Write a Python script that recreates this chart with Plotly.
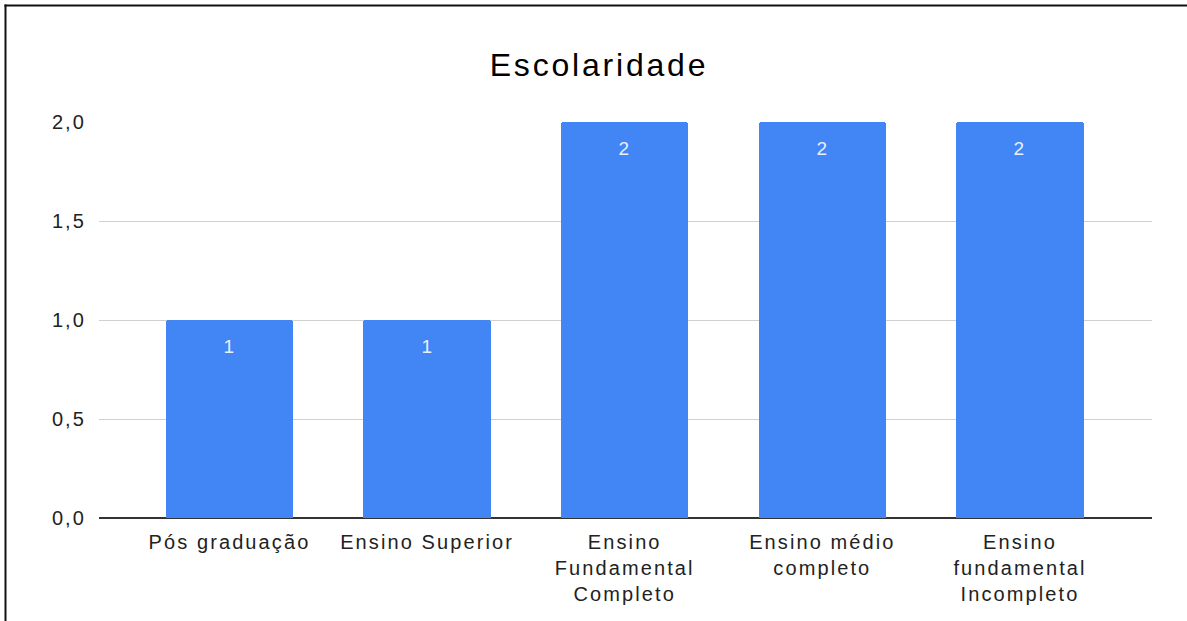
import plotly.graph_objects as go

categories = ["Pós graduação", "Ensino Superior", "Ensino<br>Fundamental<br>Completo",
              "Ensino médio<br>completo", "Ensino<br>fundamental<br>Incompleto"]
values = [1, 1, 2, 2, 2]
y_ticks = [0, 0.5, 1.0, 1.5, 2.0]
y_tick_labels = ["0,0", "0,5", "1,0", "1,5", "2,0"]
title_text = "Escolaridade"

W, H = 1187, 621
L, R, T, B = 99, 1152, 122, 518

FONT = "Liberation Sans, Arial, sans-serif"

fig = go.Figure()
fig.add_trace(go.Bar(
    x=list(range(len(categories))), y=values,
    marker=dict(color="#4285F4", line=dict(width=0), cornerradius=3),
    width=0.645, hoverinfo="skip",
))

for i, v in enumerate(values):
    fig.add_annotation(x=i, y=v, text=str(v), showarrow=False, xref="x", yref="y",
                       yshift=-26, font=dict(family=FONT, size=19, color="#e8f0fe"))

pw, ph = R - L, B - T
def px(xp):
    return (xp - L) / pw
def py(yp):
    return (B - yp) / ph

fig.add_shape(type="line", xref="paper", yref="paper", x0=px(4.5), x1=px(W + 5), y0=py(5.5), y1=py(5.5),
              line=dict(color="#111", width=2))
fig.add_shape(type="line", xref="paper", yref="paper", x0=px(5.5), x1=px(5.5), y0=py(4.5), y1=py(H + 5),
              line=dict(color="#111", width=2))

fig.update_layout(
    width=W, height=H,
    margin=dict(l=L, r=W - R, t=T, b=H - B),
    paper_bgcolor="white", plot_bgcolor="white",
    showlegend=False, bargap=0,
    title=dict(text=title_text, x=(599) / W, xanchor="center", y=1 - 65 / H, yanchor="middle",
               font=dict(family=FONT, size=32, color="#000")),
    xaxis=dict(range=[-0.66, 4.668], tickmode="array", tickvals=list(range(len(categories))),
               ticktext=categories, showgrid=False, zeroline=False, showline=False, ticks="",
               ticklabelstandoff=10,
               tickfont=dict(family=FONT, size=20, color="#222"), fixedrange=True),
    yaxis=dict(range=[0, 2], tickmode="array", tickvals=y_ticks, ticktext=y_tick_labels,
               showgrid=True, gridcolor="#d0d0d0", gridwidth=1, zeroline=True, zerolinecolor="#333",
               zerolinewidth=2, showline=False, ticks="", ticklabelstandoff=12,
               tickfont=dict(family=FONT, size=20, color="#222"), fixedrange=True),
)

post = """
document.body.style.margin='0';
document.querySelectorAll('.xtick text, .ytick text').forEach(function(t){t.style.letterSpacing='2.1px';});
document.querySelectorAll('.gtitle').forEach(function(t){t.style.letterSpacing='2.8px';});
document.querySelectorAll('.annotation-text').forEach(function(t){t.style.letterSpacing='1px';});
"""
fig.write_html("out.html", post_script=post, config={"displayModeBar": False})
